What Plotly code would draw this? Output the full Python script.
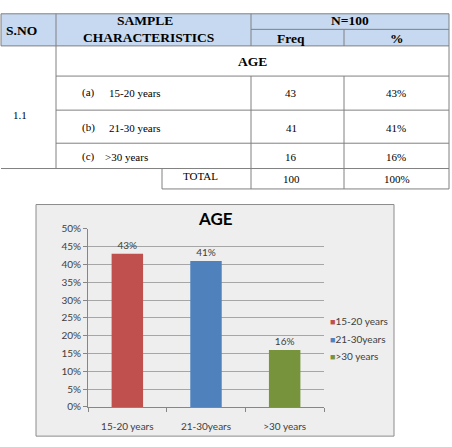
import plotly.graph_objects as go

W, H = 452, 447

# ---- data ----
categories = ["15-20 years", "21-30years", ">30 years"]
table_labels = ["15-20 years", "21-30 years", ">30 years"]
row_tags = ["(a)", "(b)", "(c)"]
freq = [43, 41, 16]
percent = [43, 41, 16]
total_freq = 100
total_pct = "100%"
bar_colors = ["#c0504d", "#4f81bd", "#77933c"]
y_ticks = list(range(0, 55, 5))


def px(x):
    return x / W


def py(y):
    return 1 - y / H


fig = go.Figure()
for cat, val, col in zip(categories, percent, bar_colors):
    fig.add_trace(go.Bar(
        x=[cat], y=[val], name=cat, marker=dict(color=col, line=dict(width=0)),
        width=0.4, text=[f"{val}%"], textposition="outside",
        textfont=dict(family="Lato", size=10, color="#404040"),
        cliponaxis=False, showlegend=False,
    ))

shapes = []
line_col = "#808080"


def hline(y, x0, x1):
    shapes.append(dict(type="line", xref="paper", yref="paper", x0=px(x0), x1=px(x1),
                       y0=py(y), y1=py(y), line=dict(color=line_col, width=1)))


def vline(x, y0, y1):
    shapes.append(dict(type="line", xref="paper", yref="paper", x0=px(x), x1=px(x),
                       y0=py(y0), y1=py(y1), line=dict(color=line_col, width=1)))


# header fill
shapes.append(dict(type="rect", xref="paper", yref="paper", x0=px(1), x1=px(449),
                   y0=py(41), y1=py(8), fillcolor="#c6d9f1", line=dict(width=0), layer="below"))
# chart background
shapes.append(dict(type="rect", xref="paper", yref="paper", x0=px(36), x1=px(394),
                   y0=py(442), y1=py(204), fillcolor="#eeeeee",
                   line=dict(color="#8c8c8c", width=1), layer="below"))

hline(8, 1, 449)
hline(24, 251, 449)
hline(41, 1, 449)
hline(72, 56, 449)
hline(107, 56, 449)
hline(141, 56, 449)
hline(167, 1, 449)
hline(188, 162, 449)
vline(1, 8, 41)
vline(56, 8, 167)
vline(251, 8, 41)
vline(251, 72, 188)
vline(344, 24, 41)
vline(344, 72, 188)
vline(449, 8, 188)
vline(162, 167, 188)

ann = []


def text(x, y, s, size=11, bold=False, anchor="center", family="Liberation Serif", color="#000000"):
    ann.append(dict(xref="paper", yref="paper", x=px(x), y=py(y), text=f"<b>{s}</b>" if bold else s,
                    showarrow=False, xanchor=anchor, yanchor="middle",
                    font=dict(family=family, size=size, color=color)))


text(21, 25, "S.NO", 13.5, True)
text(145, 15, "SAMPLE", 13.5, True)
text(148, 32, "CHARACTERISTICS", 13.5, True)
text(350, 15, "N=100", 13.5, True)
text(291, 33, "Freq", 13.5, True)
text(397, 33, "%", 13.5, True)
text(252, 57, "AGE", 13.5, True)
text(20, 112, "1.1", 11)
row_y = [89, 125, 155]
label_x = [107, 107, 103]
for tag, lab, f, p, y, lx in zip(row_tags, table_labels, freq, percent, row_y, label_x):
    text(80, y, tag, 11, anchor="left")
    text(lx, y, lab, 11, anchor="left")
    text(291, y, str(f), 11)
    text(396, y, f"{p}%", 11)
text(200, 175, "TOTAL", 11)
text(291, 178, str(total_freq), 11)
text(397, 178, total_pct, 11)

# chart title
text(215, 218, "AGE", 17, True, family="Lato")

# legend (text-based so the small swatches sit close to their labels)
for i, (cat, col) in enumerate(zip(categories, bar_colors)):
    ann.append(dict(xref="paper", yref="paper", x=px(328), y=py(324 + 18 * i),
                    xanchor="left", yanchor="middle", showarrow=False,
                    text=f'<span style="color:{col};font-size:9px">■</span>{cat}',
                    font=dict(family="Lato", size=10, color="#404040")))

fig.update_layout(
    width=W, height=H, margin=dict(l=0, r=0, t=0, b=0),
    paper_bgcolor="white", plot_bgcolor="white",
    barmode="overlay", showlegend=False,
    shapes=shapes, annotations=ann,
    xaxis=dict(domain=[px(88), px(324)], type="category", categoryorder="array",
               categoryarray=categories, showline=True, linecolor="#868686",
               ticks="outside", tickson="boundaries", ticklen=4, tickcolor="#868686",
               ticklabelstandoff=10,
               tickfont=dict(family="Lato", size=10, color="#404040"), showgrid=False),
    yaxis=dict(domain=[py(412), py(229)], range=[0, 50], tickvals=y_ticks,
               ticktext=[f"{v}%" for v in y_ticks], showline=True, linecolor="#868686",
               ticks="outside", ticklen=4, tickcolor="#868686",
               gridcolor="#a6a6a6", gridwidth=1, zeroline=False,
               tickfont=dict(family="Lato", size=10, color="#404040")),
)

fig.write_html("out.html")
